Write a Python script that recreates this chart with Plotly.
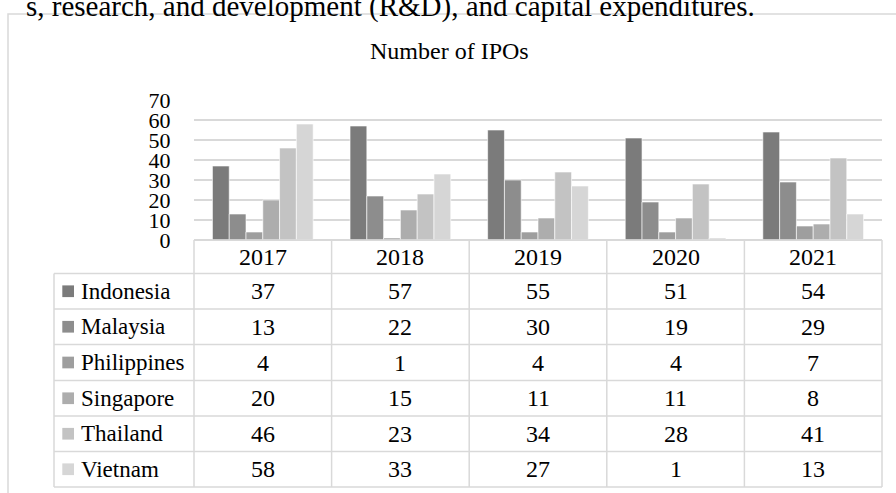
import plotly.graph_objects as go

# ---------------- data ----------------
years = ["2017", "2018", "2019", "2020", "2021"]
countries = ["Indonesia", "Malaysia", "Philippines", "Singapore", "Thailand", "Vietnam"]
indonesia = [37, 57, 55, 51, 54]
malaysia = [13, 22, 30, 19, 29]
philippines = [4, 1, 4, 4, 7]
singapore = [20, 15, 11, 11, 8]
thailand = [46, 23, 34, 28, 41]
vietnam = [58, 33, 27, 1, 13]
series = [indonesia, malaysia, philippines, singapore, thailand, vietnam]
colors = ["#7b7b7b", "#8d8d8d", "#9e9e9e", "#adadad", "#c3c3c3", "#d6d6d6"]

title_text = "Number of IPOs"
top_text = "s, research, and development (R&amp;D), and capital expenditures."

# ---------------- layout constants (pixels) ----------------
W, H = 896, 493
FONT = "Liberation Serif, Times New Roman, serif"
GRID = "#d9d9d9"
plot_left, plot_right = 194, 882
plot_top, plot_bottom = 100, 240
label_left = 54
row_edges = [240, 273.5, 309, 344.5, 380.5, 416, 451.5, 487]


def px(x):
    return x / W


def py(y):
    return 1 - y / H


fig = go.Figure()
for name, vals, col in zip(countries, series, colors):
    fig.add_trace(go.Bar(
        x=years, y=vals, name=name,
        marker_color=col, marker_line_color="#ffffff", marker_line_width=0.6,
        showlegend=False,
    ))

shapes = []
annotations = []

# outer chart frame
shapes.append(dict(type="rect", xref="paper", yref="paper",
                   x0=px(8), x1=px(905), y0=py(505), y1=py(14),
                   line=dict(color=GRID, width=1.5), layer="below"))

# table lines
ncol = len(years)
col_w = (plot_right - plot_left) / ncol
col_edges = [plot_left + i * col_w for i in range(ncol + 1)]
for i, yv in enumerate(row_edges):
    x0 = plot_left if i == 0 else label_left
    shapes.append(dict(type="line", xref="paper", yref="paper",
                       x0=px(x0), x1=px(plot_right), y0=py(yv), y1=py(yv),
                       line=dict(color=GRID, width=1.5)))
shapes.append(dict(type="line", xref="paper", yref="paper",
                   x0=px(label_left), x1=px(label_left), y0=py(row_edges[1]), y1=py(row_edges[-1]),
                   line=dict(color=GRID, width=1.5)))
for xv in col_edges:
    shapes.append(dict(type="line", xref="paper", yref="paper",
                       x0=px(xv), x1=px(xv), y0=py(row_edges[0]), y1=py(row_edges[-1]),
                       line=dict(color=GRID, width=1.5)))

# header row: years (positioned through the category x axis: index of category)
hc = (row_edges[0] + row_edges[1]) / 2
for ci, yr in enumerate(years):
    annotations.append(dict(x=ci, xref="x", y=py(hc), yref="paper", text=yr,
                            showarrow=False, xanchor="center", yanchor="middle",
                            font=dict(family=FONT, size=24, color="#000")))

# body rows
for r, (name, vals, col) in enumerate(zip(countries, series, colors)):
    yc = (row_edges[r + 1] + row_edges[r + 2]) / 2
    shapes.append(dict(type="rect", xref="paper", yref="paper",
                       x0=px(62.3), x1=px(74), y0=py(yc + 5.85), y1=py(yc - 5.85),
                       fillcolor=col, line=dict(width=0)))
    annotations.append(dict(x=px(78.5), xref="paper", y=py(yc), yref="paper", text=name,
                            showarrow=False, xanchor="left", yanchor="middle",
                            font=dict(family=FONT, size=23, color="#000")))
    for ci, v in enumerate(vals):
        annotations.append(dict(x=ci, xref="x", y=py(yc), yref="paper", text=str(v),
                                showarrow=False, xanchor="center", yanchor="middle",
                                font=dict(family=FONT, size=24, color="#000")))

# chart title
annotations.append(dict(x=px(449), xref="paper", y=py(51), yref="paper", text=title_text,
                        showarrow=False, xanchor="center", yanchor="middle",
                        font=dict(family=FONT, size=24, color="#000")))
# text of the surrounding document, cut by the window top
annotations.append(dict(x=px(757), xref="paper", y=py(25), yref="paper", text=top_text,
                        showarrow=False, xanchor="right", yanchor="bottom",
                        font=dict(family=FONT, size=29, color="#000")))

fig.update_layout(
    width=W, height=H, autosize=False,
    margin=dict(l=0, r=0, t=0, b=0, pad=0, autoexpand=False),
    paper_bgcolor="white", plot_bgcolor="white",
    barmode="group", bargap=0.268, bargroupgap=0,
    xaxis=dict(domain=[px(plot_left), px(plot_right)], type="category",
               categoryorder="array", categoryarray=years, range=[-0.5, ncol - 0.5],
               showticklabels=False, showgrid=False, zeroline=False, showline=False,
               automargin=False),
    yaxis=dict(domain=[py(plot_bottom), py(plot_top)], range=[0, 70], dtick=10,
               showgrid=True, gridcolor=GRID, gridwidth=1.5,
               zeroline=True, zerolinecolor=GRID, zerolinewidth=1.5,
               showline=False, ticks="outside", ticklen=18, tickcolor="rgba(0,0,0,0)",
               tickfont=dict(family=FONT, size=22, color="#000"), automargin=False),
    shapes=shapes, annotations=annotations,
)

fig.write_html("out.html", config={"responsive": False, "displayModeBar": False},
               post_script="document.body.style.margin='0px';")
